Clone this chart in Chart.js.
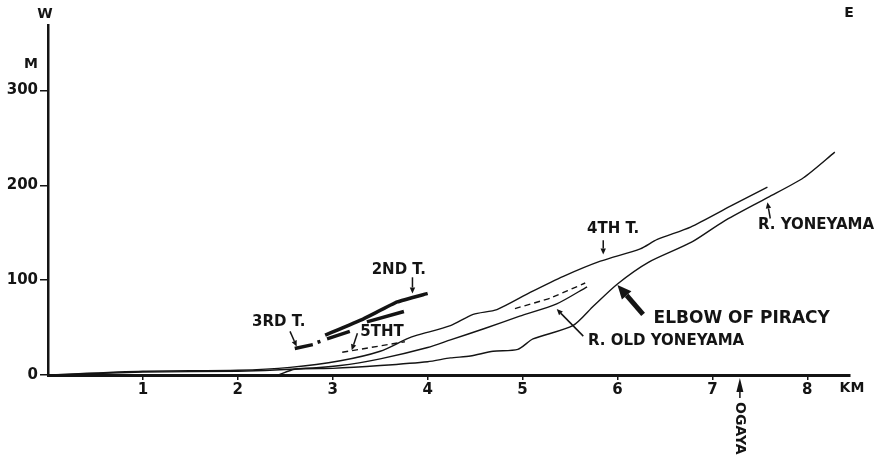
<!DOCTYPE html>
<html>
<head>
<meta charset="utf-8">
<script src="https://cdn.jsdelivr.net/npm/chart.js@4/dist/chart.umd.min.js"></script>
<style>
  html, body { margin: 0; padding: 0; background: #fff; }
  #wrap { width: 886px; height: 455px; }
</style>
</head>
<body>
<div id="wrap"><canvas id="perfil" width="886" height="455"></canvas></div>
<script>
// profile W -> E, distance in km, altitude in m
const upperKm = [0, 1.0, 2.0, 2.55, 3.08, 3.5, 3.78, 3.89, 4.24, 4.48, 4.73, 5.08, 5.43, 5.82, 6.24, 6.42, 6.77, 7.19, 7.58];
const upperM = [0, 4, 5, 8, 15, 25, 38, 42, 52, 64, 69, 87, 104, 120, 133, 143, 156, 178, 198];

const oldKm = [0, 1.0, 2.0, 2.55, 3.08, 3.5, 4.0, 4.24, 4.6, 4.97, 5.36, 5.68];
const oldM = [0, 3, 4, 6, 10, 17, 29, 37, 49, 62, 75, 93];

const yoneKm = [2.43, 2.6, 3.0, 3.5, 4.0, 4.24, 4.45, 4.69, 4.95, 5.11, 5.53, 5.75, 6.0, 6.33, 6.78, 7.12, 7.58, 7.96, 8.29];
const yoneM = [0, 6, 7, 10, 14, 18, 20, 25, 27, 38, 52, 73, 96, 119, 140, 162, 187, 208, 235];

const secondKm = [2.92, 3.32, 3.68, 4.0];
const secondM = [42, 59, 77, 86];

// 3rd terrace is a broken thick line, null = gap
const thirdKm = [2.6, 2.79, 2.81, 2.84, 2.87, 2.9, 2.94, 3.18, 3.26, 3.36, 3.75];
const thirdM = [28, 32, null, 34.5, 35.5, null, 38, 46, null, 56, 67];

const fifthKm = [3.1, 3.76];
const fifthM = [24, 35];

const fifthEastKm = [4.92, 5.29, 5.66];
const fifthEastM = [70, 81, 97];

const yTicks = [0, 100, 200, 300];
const xTicks = [1, 2, 3, 4, 5, 6, 7, 8];

// labels: text, anchor (km, m), font size
const labels = [
  { text: "3RD T.", km: 2.15, m: 56, size: 15 },
  { text: "2ND T.", km: 3.41, m: 111, size: 15 },
  { text: "5THT", km: 3.29, m: 45, size: 15 },
  { text: "4TH T.", km: 5.68, m: 154, size: 15 },
  { text: "R. YONEYAMA", km: 7.48, m: 158, size: 15 },
  { text: "ELBOW OF PIRACY", km: 6.38, m: 59, size: 17 },
  { text: "R. OLD YONEYAMA", km: 5.69, m: 36, size: 15 },
];

// arrows: from (km, m) to (km, m)
const arrows = [
  { x1: 2.55, y1: 46, x2: 2.62, y2: 30, w: 1.5, head: 6 },
  { x1: 3.84, y1: 103, x2: 3.84, y2: 86, w: 1.5, head: 6 },
  { x1: 3.26, y1: 44, x2: 3.2, y2: 26, w: 1.5, head: 6 },
  { x1: 5.85, y1: 142, x2: 5.85, y2: 127, w: 1.5, head: 6 },
  { x1: 7.61, y1: 165, x2: 7.58, y2: 182, w: 1.5, head: 6 },
  { x1: 5.64, y1: 41, x2: 5.36, y2: 69.5, w: 1.5, head: 6 },
  { x1: 6.27, y1: 64, x2: 6.0, y2: 95, w: 5, head: 14 },
];

const ogayaKm = 7.29;

function pares(km, m) {
  return km.map(function (k, i) {
    return { x: k, y: m[i] };
  });
}

const ink = "#141414";
const fonte = '"DejaVu Sans", sans-serif';

function drawArrow(ctx, x1, y1, x2, y2, w, head) {
  var ang = Math.atan2(y2 - y1, x2 - x1);
  var bx = x2 - head * Math.cos(ang);
  var by = y2 - head * Math.sin(ang);
  ctx.lineWidth = w;
  ctx.beginPath();
  ctx.moveTo(x1, y1);
  ctx.lineTo(bx, by);
  ctx.stroke();
  var hw = head * 0.45;
  ctx.beginPath();
  ctx.moveTo(x2, y2);
  ctx.lineTo(bx + hw * Math.sin(ang), by - hw * Math.cos(ang));
  ctx.lineTo(bx - hw * Math.sin(ang), by + hw * Math.cos(ang));
  ctx.closePath();
  ctx.fill();
}

const annotations = {
  id: "annotations",
  afterDraw(chart) {
    var ctx = chart.ctx;
    var xs = chart.scales.x;
    var ys = chart.scales.y;
    var area = chart.chartArea;
    ctx.save();
    ctx.fillStyle = ink;
    ctx.strokeStyle = ink;
    ctx.textBaseline = "middle";

    labels.forEach(function (l) {
      ctx.font = "bold " + l.size + "px " + fonte;
      ctx.textAlign = "left";
      ctx.fillText(l.text, xs.getPixelForValue(l.km), ys.getPixelForValue(l.m));
    });

    arrows.forEach(function (a) {
      drawArrow(ctx, xs.getPixelForValue(a.x1), ys.getPixelForValue(a.y1),
        xs.getPixelForValue(a.x2), ys.getPixelForValue(a.y2), a.w, a.head);
    });

    // compass and units
    ctx.font = "bold 14px " + fonte;
    ctx.textAlign = "center";
    ctx.fillText("W", area.left - 3, 14);
    ctx.fillText("E", 849, 13);
    ctx.fillText("M", 31, 64);
    ctx.fillText("KM", area.right + 2, 388);

    // OGAYA marker below the axis
    var ox = xs.getPixelForValue(ogayaKm);
    var oy = area.bottom + 3;
    ctx.beginPath();
    ctx.moveTo(ox, oy);
    ctx.lineTo(ox + 3.5, oy + 14);
    ctx.lineTo(ox - 3.5, oy + 14);
    ctx.closePath();
    ctx.fill();
    ctx.lineWidth = 1.5;
    ctx.beginPath();
    ctx.moveTo(ox, oy + 14);
    ctx.lineTo(ox, oy + 20);
    ctx.stroke();
    ctx.translate(ox, oy + 24);
    ctx.rotate(Math.PI / 2);
    ctx.font = "bold 14px " + fonte;
    ctx.textAlign = "left";
    ctx.fillText("OGAYA", 0, 0);
    ctx.restore();
  },
};

function linha(data, w, extra) {
  return Object.assign({
    data: data,
    borderColor: ink,
    borderWidth: w,
    pointRadius: 0,
    tension: 0.25,
    fill: false,
    spanGaps: false,
  }, extra || {});
}

var ctx = document.getElementById("perfil").getContext("2d");
var myChart = new Chart(ctx, {
  type: "line",
  data: {
    datasets: [
      linha(pares(upperKm, upperM), 1.4),
      linha(pares(oldKm, oldM), 1.4),
      linha(pares(yoneKm, yoneM), 1.4),
      linha(pares(secondKm, secondM), 3.5, { tension: 0.1 }),
      linha(pares(thirdKm, thirdM), 3.5, { tension: 0 }),
      linha(pares(fifthKm, fifthM), 1.4, { borderDash: [6, 4], tension: 0 }),
      linha(pares(fifthEastKm, fifthEastM), 1.4, { borderDash: [6, 4], tension: 0.1 }),
    ],
  },
  options: {
    responsive: false,
    animation: false,
    devicePixelRatio: 1,
    layout: { padding: { left: 0, right: 36, top: 25, bottom: 0 } },
    plugins: {
      legend: { display: false },
      tooltip: { enabled: false },
    },
    scales: {
      x: {
        type: "linear",
        min: 0,
        max: 8.45,
        afterFit: function (s) { s.height = 80; },
        afterBuildTicks: function (s) {
          s.ticks = xTicks.map(function (v) { return { value: v }; });
        },
        border: { display: true, color: ink, width: 3 },
        grid: { display: true, drawOnChartArea: false, drawTicks: true, tickLength: 5, color: ink, lineWidth: 1.5 },
        ticks: { color: ink, font: { family: fonte, size: 15, weight: "bold" }, padding: 1, maxRotation: 0 },
      },
      y: {
        min: 0,
        max: 369,
        afterFit: function (s) { s.width = 48; },
        afterBuildTicks: function (s) {
          s.ticks = yTicks.map(function (v) { return { value: v }; });
        },
        border: { display: true, color: ink, width: 2.5 },
        grid: { display: true, drawOnChartArea: false, drawTicks: true, tickLength: 8, color: ink, lineWidth: 1.5 },
        ticks: { color: ink, font: { family: fonte, size: 15, weight: "bold" }, padding: 2 },
      },
    },
  },
  plugins: [annotations],
});
</script>
</body>
</html>
